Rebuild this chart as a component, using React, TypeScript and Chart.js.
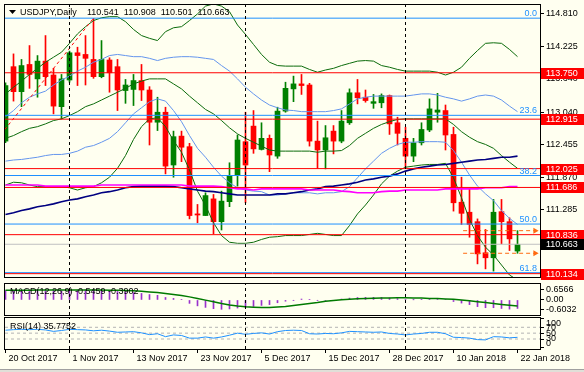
import React, { useEffect, useRef } from "react";
import { Chart, registerables } from "chart.js";

Chart.register(...registerables);

// ---------------- data ----------------
const dateLabels = ["20 Oct 2017", "1 Nov 2017", "13 Nov 2017", "23 Nov 2017", "5 Dec 2017", "15 Dec 2017", "28 Dec 2017", "10 Jan 2018", "22 Jan 2018"];
const dateTickBars = [0, 8, 16, 24, 32, 40, 48, 56, 64];
const monthSeparatorBars = [8, 30, 50];

const opens = [112.52, 113.86, 113.41, 113.90, 113.64, 113.96, 113.71, 113.14, 113.62, 114.11,
  114.08, 113.99, 113.68, 113.98, 113.86, 113.43, 113.45, 113.61, 113.44, 112.86,
  113.04, 112.09, 112.61, 112.42, 111.21, 111.18, 111.48, 111.07, 111.43, 111.90,
  112.51, 112.79, 112.37, 112.57, 112.25, 113.06, 113.46, 113.55, 113.53, 112.52,
  112.36, 112.70, 112.52, 112.85, 113.39, 113.31, 113.20, 113.21, 113.34, 112.85,
  112.57, 112.25, 112.49, 112.72, 113.04, 113.07, 112.64, 111.42, 111.24, 111.07,
  110.51, 110.42, 111.25, 111.07, 110.541];
const highs = [113.57, 114.09, 113.99, 114.24, 114.06, 114.42, 113.83, 113.72, 114.14, 114.21,
  114.42, 114.73, 114.33, 114.02, 113.99, 113.63, 113.72, 113.90, 113.50, 113.31,
  113.13, 112.70, 112.70, 112.48, 111.38, 111.59, 111.56, 111.62, 112.13, 112.63,
  113.04, 113.07, 112.85, 112.63, 113.13, 113.58, 113.69, 113.72, 113.56, 112.88,
  112.80, 112.80, 113.07, 113.46, 113.63, 113.44, 113.36, 113.37, 113.35, 112.95,
  112.77, 112.57, 112.85, 113.28, 113.38, 113.17, 112.77, 111.87, 111.66, 111.12,
  110.93, 111.47, 111.47, 111.14, 110.908];
const lows = [112.49, 113.24, 113.14, 113.47, 113.31, 113.52, 113.01, 112.92, 113.58, 113.52,
  113.53, 113.65, 113.66, 113.40, 113.07, 113.20, 113.16, 113.25, 112.45, 112.71,
  111.93, 111.87, 112.15, 111.12, 111.05, 111.18, 110.85, 110.92, 111.34, 111.71,
  111.41, 112.30, 112.36, 111.97, 112.21, 113.04, 113.23, 113.36, 112.43, 112.03,
  112.02, 112.29, 112.49, 112.82, 113.19, 113.22, 113.11, 113.12, 112.64, 112.45,
  112.03, 112.15, 112.45, 112.69, 112.86, 112.36, 111.26, 111.02, 110.79, 110.31,
  110.22, 110.18, 110.67, 110.55, 110.501];
const closes = [113.52, 113.41, 113.88, 113.72, 113.96, 113.68, 113.15, 113.64, 114.11, 114.06,
  114.01, 113.68, 113.99, 113.75, 113.44, 113.53, 113.61, 113.44, 112.86, 113.04,
  112.07, 112.60, 112.41, 111.18, 111.19, 111.54, 111.07, 111.44, 111.90, 112.54,
  112.09, 112.38, 112.57, 112.27, 113.06, 113.47, 113.55, 113.52, 112.52, 112.36,
  112.58, 112.52, 112.88, 113.39, 113.30, 113.25, 113.23, 113.34, 112.83, 112.66,
  112.25, 112.49, 112.73, 113.10, 113.08, 112.63, 111.41, 111.22, 111.02, 110.49,
  110.42, 111.24, 111.07, 110.76, 110.663];

const bbUpper2 = [113.37, 113.49, 113.60, 113.72, 113.83, 113.94, 114.03, 114.12, 114.28, 114.45,
  114.58, 114.69, 114.74, 114.76, 114.76, 114.67, 114.53, 114.42, 114.37, 114.33,
  114.49, 114.56, 114.58, 114.69, 114.81, 114.95, 114.99, 114.95, 114.85, 114.61,
  114.44, 114.26, 114.08, 113.94, 113.88, 113.87, 113.87, 113.87, 113.81, 113.76,
  113.80, 113.83, 113.88, 113.92, 113.96, 113.97, 113.96, 113.88, 113.85, 113.81,
  113.78, 113.78, 113.78, 113.78, 113.76, 113.71, 113.76, 113.85, 114.01, 114.15,
  114.28, 114.29, 114.28, 114.17, 114.04];
const bbUpper1 = [112.96, 113.07, 113.21, 113.31, 113.37, 113.42, 113.53, 113.62, 113.69, 113.78,
  113.85, 113.94, 113.99, 114.06, 114.08, 114.06, 114.04, 114.04, 114.01, 113.97,
  114.01, 114.03, 114.04, 114.04, 114.03, 114.01, 113.99, 113.88, 113.78, 113.64,
  113.49, 113.37, 113.26, 113.17, 113.12, 113.08, 113.07, 113.05, 113.05, 113.05,
  113.05, 113.07, 113.10, 113.19, 113.28, 113.31, 113.33, 113.33, 113.33, 113.33,
  113.33, 113.35, 113.37, 113.37, 113.35, 113.31, 113.28, 113.24, 113.28, 113.33,
  113.35, 113.33, 113.26, 113.15, 113.05];
const bbMiddle = [112.57, 112.62, 112.69, 112.75, 112.78, 112.83, 112.89, 112.92, 112.98, 113.05,
  113.14, 113.19, 113.26, 113.33, 113.40, 113.47, 113.55, 113.60, 113.64, 113.64,
  113.64, 113.55, 113.46, 113.33, 113.21, 113.09, 113.01, 112.89, 112.76, 112.65,
  112.57, 112.50, 112.43, 112.36, 112.34, 112.34, 112.34, 112.34, 112.34, 112.32,
  112.34, 112.34, 112.35, 112.44, 112.57, 112.66, 112.75, 112.82, 112.87, 112.91,
  112.92, 112.92, 112.92, 112.92, 112.92, 112.92, 112.82, 112.69, 112.59, 112.51,
  112.46, 112.39, 112.26, 112.14, 112.03];
const bbLower1 = [112.16, 112.18, 112.19, 112.21, 112.23, 112.26, 112.28, 112.28, 112.30, 112.34,
  112.41, 112.44, 112.50, 112.57, 112.69, 112.85, 113.01, 113.12, 113.23, 113.28,
  113.24, 113.07, 112.87, 112.62, 112.39, 112.23, 112.05, 111.89, 111.77, 111.68,
  111.64, 111.62, 111.61, 111.55, 111.55, 111.57, 111.59, 111.59, 111.59, 111.57,
  111.59, 111.59, 111.61, 111.70, 111.86, 112.02, 112.16, 112.30, 112.39, 112.46,
  112.50, 112.50, 112.51, 112.51, 112.51, 112.50, 112.35, 112.14, 111.91, 111.71,
  111.57, 111.45, 111.27, 111.13, 111.02];
const bbLower2 = [111.73, 111.78, 111.77, 111.73, 111.70, 111.70, 111.70, 111.70, 111.68, 111.64,
  111.68, 111.70, 111.77, 111.87, 112.03, 112.26, 112.55, 112.78, 112.92, 112.94,
  112.78, 112.53, 112.32, 112.00, 111.62, 111.36, 111.05, 110.82, 110.70, 110.68,
  110.68, 110.70, 110.75, 110.79, 110.80, 110.82, 110.82, 110.82, 110.84, 110.86,
  110.84, 110.82, 110.82, 111.00, 111.21, 111.37, 111.55, 111.75, 111.89, 111.98,
  112.05, 112.07, 112.09, 112.10, 112.10, 112.12, 111.86, 111.50, 111.11, 110.82,
  110.61, 110.47, 110.29, 110.11, 110.02];
const maSlow = [111.20, 111.23, 111.27, 111.30, 111.34, 111.36, 111.39, 111.43, 111.46, 111.48,
  111.52, 111.55, 111.59, 111.61, 111.64, 111.68, 111.70, 111.71, 111.71, 111.71,
  111.71, 111.70, 111.68, 111.66, 111.64, 111.62, 111.61, 111.59, 111.57, 111.55,
  111.55, 111.55, 111.55, 111.55, 111.57, 111.57, 111.59, 111.61, 111.64, 111.66,
  111.70, 111.71, 111.73, 111.75, 111.78, 111.82, 111.84, 111.87, 111.89, 111.93,
  111.98, 112.02, 112.05, 112.07, 112.09, 112.10, 112.12, 112.14, 112.16, 112.18,
  112.19, 112.21, 112.23, 112.23, 112.25];
const maMid = [111.73, 111.73, 111.73, 111.73, 111.73, 111.71, 111.71, 111.71, 111.71, 111.71,
  111.71, 111.71, 111.73, 111.73, 111.73, 111.73, 111.73, 111.73, 111.73, 111.73,
  111.73, 111.73, 111.73, 111.71, 111.71, 111.71, 111.71, 111.70, 111.68, 111.66,
  111.66, 111.64, 111.66, 111.66, 111.66, 111.66, 111.66, 111.66, 111.64, 111.64,
  111.64, 111.64, 111.62, 111.61, 111.59, 111.59, 111.59, 111.61, 111.62, 111.62,
  111.64, 111.64, 111.64, 111.64, 111.64, 111.66, 111.66, 111.66, 111.66, 111.66,
  111.68, 111.68, 111.68, 111.70, 111.70];

const fibLevels = [114.733, 112.984, 111.901, 111.027, 110.152];
const fibLabels = ["0.0", "23.6", "38.2", "50.0", "61.8"];
const fibLowBar = -30;
const fibLowPrice = 107.32;
const fibHighBar = 11;
const fibHighPrice = 114.733;
const redLevels = [113.750, 112.915, 112.025, 111.686, 110.836, 110.134];
const bidPrice = 110.663;
const dayHigh = 110.908;
const dayLow = 110.501;
const markerStartBar = 57.2;
const markerEndBar = 66.2;
const priceTicks = [114.810, 114.225, 113.640, 113.040, 112.455, 111.870, 111.285, 110.700, 110.115];

const macdMain = [0.60, 0.62, 0.63, 0.64, 0.65, 0.6566, 0.62, 0.60, 0.63, 0.64,
  0.65, 0.63, 0.62, 0.60, 0.55, 0.51, 0.47, 0.42, 0.35, 0.30,
  0.16, 0.10, 0.04, -0.22, -0.38, -0.48, -0.56, -0.6032, -0.58, -0.52,
  -0.48, -0.42, -0.35, -0.30, -0.18, -0.08, -0.02, 0.06, 0.04, -0.02,
  -0.04, -0.03, 0.06, 0.12, 0.16, 0.17, 0.17, 0.16, 0.13, 0.09,
  0.04, 0.01, 0.02, 0.06, 0.07, 0.03, -0.10, -0.20, -0.30, -0.43,
  -0.50, -0.50, -0.55, -0.59, -0.5459];
const macdSignal = [0.62, 0.62, 0.63, 0.63, 0.64, 0.64, 0.64, 0.64, 0.64, 0.64,
  0.64, 0.64, 0.64, 0.63, 0.62, 0.61, 0.59, 0.56, 0.52, 0.48,
  0.42, 0.36, 0.29, 0.20, 0.10, -0.01, -0.12, -0.23, -0.32, -0.39,
  -0.44, -0.47, -0.49, -0.49, -0.46, -0.42, -0.36, -0.30, -0.23, -0.17,
  -0.08, -0.03, 0.02, 0.05, 0.08, 0.10, 0.11, 0.12, 0.13, 0.14,
  0.14, 0.13, 0.12, 0.10, 0.09, 0.07, 0.04, 0.00, -0.05, -0.11,
  -0.17, -0.23, -0.29, -0.34, -0.3902];
const macdTicks = [0.6566, 0, -0.6032];

const rsiValues = [60, 62, 63, 62, 63, 61, 56, 59, 63, 62,
  61, 58, 60, 57, 53, 54, 55, 51, 45, 48,
  38, 44, 42, 33, 33, 37, 33, 37, 43, 50,
  46, 49, 51, 47, 55, 59, 60, 59, 48, 47,
  49, 48, 51, 56, 55, 54, 53, 54, 49, 47,
  44, 47, 49, 53, 53, 48, 36, 35, 33, 28,
  27, 38, 37, 34, 35.7752];
const rsiLevels = [70, 50, 30];
const rsiTicks = [100, 70, 50, 30, 0];

// ---------------- styling ----------------
const FONT = "Liberation Sans";
const BG = "#FFFFF0";
const X_MIN = -0.0625;
const X_MAX = 66.8125;
const AXIS_W = 44;
const BULL = "#008000";
const BEAR = "#FF0000";
const BAND = "#0B6B0B";
const BAND1 = "#6495ED";
const FIB = "#1E90FF";
const LEVEL = "#FF0000";
const MARK = "#FF6A10";

const P_MIN = 110.074, P_MAX = 114.970;
const M_MIN = -0.97, M_MAX = 1.03;
const R_MIN = -4.1, R_MAX = 101.7;

const series = (arr: number[]) => arr.map((v, i) => ({ x: i, y: v }));
const hline = (v: number) => [{ x: X_MIN, y: v }, { x: X_MAX, y: v }];
const vline = (b: number, lo: number, hi: number) => [{ x: b, y: lo }, { x: b, y: hi }];

function lineDs(data: any[], color: string, width: number, order: number, extra: any = {}) {
  return {
    type: "line",
    data,
    borderColor: color,
    backgroundColor: color,
    borderWidth: width,
    pointRadius: 0,
    tension: 0,
    fill: false,
    order,
    ...extra,
  };
}

function separators(lo: number, hi: number) {
  return monthSeparatorBars.map((b) => lineDs(vline(b, lo, hi), "#000", 1, 0, { borderDash: [3, 3] }));
}

function xScale(show: boolean) {
  return {
    type: "linear",
    min: X_MIN,
    max: X_MAX,
    offset: false,
    display: show,
    afterBuildTicks: (s: any) => {
      s.ticks = dateTickBars.map((v) => ({ value: v }));
    },
    afterFit: (s: any) => {
      s.paddingLeft = 0;
      s.paddingRight = 0;
      if (show) s.height = 23;
    },
    grid: { drawOnChartArea: false, drawTicks: true, tickLength: 4, color: "#000" },
    border: { display: false },
    ticks: {
      autoSkip: false,
      maxRotation: 0,
      align: "start",
      labelOffset: 3,
      padding: 0,
      color: "#000",
      font: { family: FONT, size: 9 },
      callback: (v: any) => {
        const k = dateTickBars.indexOf(Number(v));
        return k >= 0 ? dateLabels[k] : "";
      },
    },
  };
}

function yScale(min: number, max: number, ticks: number[], fmt: (v: number) => string, showLabels = true) {
  return {
    type: "linear",
    position: "right",
    min,
    max,
    afterBuildTicks: (s: any) => {
      s.ticks = ticks.map((v) => ({ value: v }));
    },
    afterFit: (s: any) => {
      s.width = AXIS_W;
      s.paddingTop = 0;
      s.paddingBottom = 0;
    },
    grid: { drawOnChartArea: false, drawTicks: true, tickLength: 4, color: "#000" },
    border: { display: true, color: "#000" },
    ticks: {
      autoSkip: false,
      display: showLabels,
      padding: 2,
      color: "#000",
      font: { family: FONT, size: 9 },
      callback: (v: any) => fmt(Number(v)),
    },
  };
}

function frame(chart: any) {
  const { ctx, chartArea: a } = chart;
  ctx.save();
  ctx.strokeStyle = "#000";
  ctx.lineWidth = 1;
  const l = Math.round(a.left) - 0.5;
  const t = Math.round(a.top) - 0.5;
  const r = Math.round(a.right) + 0.5;
  const b = Math.round(a.bottom) + 0.5;
  ctx.strokeRect(l, t, r - l, b - t);
  ctx.restore();
}

const baseOptions = (padding: any) => ({
  responsive: false,
  animation: false,
  devicePixelRatio: 1,
  events: [],
  layout: { padding },
  plugins: { legend: { display: false }, tooltip: { enabled: false } },
});

function mainConfig(): any {
  const idx = opens.map((_, i) => i);
  const candleColors = idx.map((i) => (closes[i] >= opens[i] ? BULL : BEAR));
  const overlay = {
    id: "mainOverlay",
    afterDraw(chart: any) {
      const { ctx, chartArea: a, scales } = chart;
      const y = scales.y;
      frame(chart);
      ctx.save();
      ctx.font = `9px "${FONT}"`;
      // fibo labels
      ctx.fillStyle = FIB;
      ctx.textAlign = "right";
      ctx.textBaseline = "alphabetic";
      fibLevels.forEach((v, k) => {
        ctx.fillText(fibLabels[k], a.right - 3, y.getPixelForValue(v) - 2);
      });
      // level boxes on price axis
      ctx.textAlign = "left";
      ctx.textBaseline = "middle";
      redLevels.forEach((v) => {
        const py = Math.round(y.getPixelForValue(v));
        ctx.fillStyle = LEVEL;
        ctx.fillRect(a.right + 1, py - 5, 44, 11);
        ctx.fillStyle = "#FFF";
        ctx.fillText(v.toFixed(3), a.right + 6, py + 0.5);
      });
      const bp = Math.round(y.getPixelForValue(bidPrice));
      ctx.fillStyle = "#000";
      ctx.fillRect(a.right + 1, bp - 5, 44, 11);
      ctx.fillStyle = "#FFF";
      ctx.fillText(bidPrice.toFixed(3), a.right + 6, bp + 0.5);
      // title
      ctx.fillStyle = "#000";
      ctx.beginPath();
      ctx.moveTo(9, 10);
      ctx.lineTo(16, 10);
      ctx.lineTo(12.5, 14);
      ctx.closePath();
      ctx.fill();
      ctx.textBaseline = "middle";
      ctx.fillText("USDJPY,Daily", 20, 13);
      ctx.fillText(
        `${opens[opens.length - 1].toFixed(3)}  ${highs[highs.length - 1].toFixed(3)}  ${lows[lows.length - 1].toFixed(3)}  ${closes[closes.length - 1].toFixed(3)}`,
        87,
        13
      );
      ctx.restore();
    },
  };

  const datasets: any[] = [
    {
      type: "bar",
      data: idx.map((i) => ({ x: i, y: [lows[i], highs[i]] })),
      backgroundColor: candleColors,
      barThickness: 1,
      grouped: false,
      borderWidth: 0,
      minBarLength: 1,
      order: 20,
    },
    {
      type: "bar",
      data: idx.map((i) => ({ x: i, y: [opens[i], closes[i]] })),
      backgroundColor: candleColors,
      barThickness: 5,
      grouped: false,
      borderWidth: 0,
      minBarLength: 1,
      order: 19,
    },
    lineDs(series(bbUpper2), BAND, 1, 10),
    lineDs(series(bbUpper1), BAND1, 1, 10),
    lineDs(series(bbMiddle), BAND, 1, 10),
    lineDs(series(bbLower1), BAND1, 1, 10),
    lineDs(series(bbLower2), BAND, 1, 10),
    lineDs(series(maMid), "#FF00FF", 1.6, 9),
    lineDs(series(maSlow), "#000080", 1.6, 9),
    lineDs(hline(bidPrice), "#C0C0C0", 1, 8),
    ...fibLevels.map((v) => lineDs(hline(v), FIB, 1, 6)),
    ...redLevels.map((v) => lineDs(hline(v), LEVEL, 1, 5)),
    lineDs([{ x: fibLowBar, y: fibLowPrice }, { x: fibHighBar, y: fibHighPrice }], LEVEL, 1, 5, { borderDash: [3, 3] }),
    ...[dayHigh, dayLow].map((v) =>
      lineDs([{ x: markerStartBar, y: v }, { x: markerEndBar, y: v }], MARK, 1, 4, {
        borderDash: [4, 3],
        pointRadius: [0, 3.5],
        pointStyle: "triangle",
        pointRotation: 90,
        pointBackgroundColor: MARK,
        pointBorderWidth: 0,
      })
    ),
    ...separators(P_MIN, P_MAX),
  ];

  return {
    type: "line",
    data: { datasets },
    options: {
      ...baseOptions({ left: 5, right: 0, top: 5, bottom: 1 }),
      scales: {
        x: xScale(false),
        y: yScale(P_MIN, P_MAX, priceTicks, (v) => v.toFixed(3)),
      },
    },
    plugins: [overlay],
  };
}

function macdConfig(): any {
  const overlay = {
    id: "macdOverlay",
    afterDraw(chart: any) {
      frame(chart);
      const { ctx } = chart;
      ctx.save();
      ctx.font = `9px "${FONT}"`;
      ctx.fillStyle = "#000";
      ctx.textAlign = "left";
      ctx.textBaseline = "middle";
      ctx.fillText(
        `MACD(12,26,9) ${macdMain[macdMain.length - 1].toFixed(4)} ${macdSignal[macdSignal.length - 1].toFixed(4)}`,
        10,
        11
      );
      ctx.restore();
    },
  };
  return {
    type: "line",
    data: {
      datasets: [
        {
          type: "bar",
          data: series(macdMain),
          backgroundColor: "#9932CC",
          barThickness: 1,
          grouped: false,
          borderWidth: 0,
          order: 20,
        },
        lineDs(series(macdSignal), "#007A00", 1.5, 10),
        ...separators(M_MIN, M_MAX),
      ],
    },
    options: {
      ...baseOptions({ left: 5, right: 0, top: 3, bottom: 2 }),
      scales: {
        x: xScale(false),
        y: yScale(M_MIN, M_MAX, macdTicks, (v) => (v === 0 ? "0.00" : v.toFixed(4))),
      },
    },
    plugins: [overlay],
  };
}

function rsiConfig(): any {
  const overlay = {
    id: "rsiOverlay",
    afterDraw(chart: any) {
      frame(chart);
      const { ctx, chartArea: a, scales, height, width } = chart;
      const y = scales.y;
      ctx.save();
      ctx.font = `9px "${FONT}"`;
      ctx.fillStyle = "#000";
      ctx.textAlign = "left";
      ctx.textBaseline = "middle";
      rsiTicks.forEach((v) => {
        const p = y.getPixelForValue(v);
        const py = Math.min(Math.max(p, a.top + 6), a.bottom - 5.5);
        ctx.fillText(String(v), a.right + 6, py);
      });
      ctx.fillText(`RSI(14) ${rsiValues[rsiValues.length - 1].toFixed(4)}`, 10, 9.5);
      ctx.fillStyle = "#A0A0A0";
      ctx.fillRect(0, height - 3, width, 1);
      ctx.fillStyle = "#E0DFD8";
      ctx.fillRect(0, height - 2, width, 2);
      ctx.restore();
    },
  };
  return {
    type: "line",
    data: {
      datasets: [
        ...rsiLevels.map((v) => lineDs(hline(v), "#B4B4B4", 1, 12, { borderDash: [3, 3] })),
        lineDs(series(rsiValues), "#1E90FF", 1, 10),
        ...separators(R_MIN, R_MAX),
      ],
    },
    options: {
      ...baseOptions({ left: 5, right: 0, top: 1, bottom: 0 }),
      scales: {
        x: xScale(true),
        y: yScale(R_MIN, R_MAX, rsiTicks, (v) => String(v), false),
      },
    },
    plugins: [overlay],
  };
}

export default function App() {
  const mainRef = useRef<HTMLCanvasElement>(null);
  const macdRef = useRef<HTMLCanvasElement>(null);
  const rsiRef = useRef<HTMLCanvasElement>(null);

  useEffect(() => {
    Chart.defaults.font.family = FONT;
    Chart.defaults.font.size = 9;
    const charts = [
      new Chart(mainRef.current as HTMLCanvasElement, mainConfig()),
      new Chart(macdRef.current as HTMLCanvasElement, macdConfig()),
      new Chart(rsiRef.current as HTMLCanvasElement, rsiConfig()),
    ];
    return () => charts.forEach((c) => c.destroy());
  }, []);

  return (
    <div style={{ position: "fixed", left: 0, top: 0, width: 584, height: 372, background: BG, overflow: "hidden" }}>
      <canvas ref={mainRef} width={584} height={281} style={{ position: "absolute", left: 0, top: 0 }} />
      <canvas ref={macdRef} width={584} height={36} style={{ position: "absolute", left: 0, top: 281 }} />
      <canvas ref={rsiRef} width={584} height={55} style={{ position: "absolute", left: 0, top: 317 }} />
    </div>
  );
}
